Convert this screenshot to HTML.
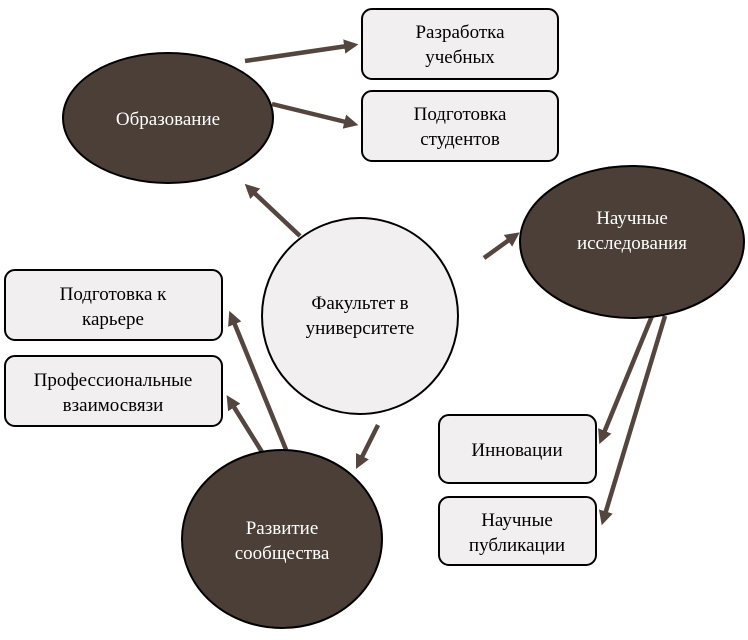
<!DOCTYPE html>
<html><head><meta charset="utf-8"><style>
body{margin:0;background:#fff}
svg text{font-family:"Liberation Serif","Noto Serif CJK SC",serif;font-size:19px;text-anchor:middle}
</style></head><body>
<svg width="748" height="635" viewBox="0 0 748 635" xmlns="http://www.w3.org/2000/svg">
<defs><marker id="a" markerWidth="3.2" markerHeight="3.2" refX="2.2" refY="1.6" orient="auto" markerUnits="strokeWidth"><path d="M0,0 L3.2,1.6 L0,3.2 z" fill="#54463e"/></marker></defs>
<g stroke="#54463e" stroke-width="4.5" marker-end="url(#a)" fill="none">
<line x1="245" y1="61" x2="354" y2="45"/>
<line x1="272" y1="104" x2="354" y2="124"/>
<line x1="300" y1="236" x2="248" y2="187"/>
<line x1="484" y1="258" x2="516" y2="235"/>
<line x1="652" y1="316" x2="601" y2="440"/>
<line x1="665" y1="316" x2="603" y2="521"/>
<line x1="378" y1="425" x2="358" y2="465"/>
<line x1="287" y1="452" x2="231" y2="315"/>
<line x1="262" y1="452" x2="229" y2="399"/>
</g>
<g stroke="#000" stroke-width="2" fill="#f1efef">
<rect x="362" y="9" width="196" height="70" rx="10"/>
<rect x="362" y="91" width="196" height="70" rx="10"/>
<rect x="5" y="270" width="217" height="70" rx="10"/>
<rect x="5" y="356" width="217" height="70" rx="10"/>
<rect x="439" y="415" width="157" height="68" rx="10"/>
<rect x="439" y="497" width="157" height="68" rx="10"/>
<ellipse cx="360" cy="316" rx="98" ry="98"/>
</g>
<g stroke="#000" stroke-width="2" fill="#4b3f38">
<ellipse cx="168" cy="118" rx="105" ry="65"/>
<ellipse cx="632" cy="242" rx="112" ry="76"/>
<ellipse cx="282" cy="539" rx="100" ry="89"/>
</g>
<g fill="#000">
<text x="460" y="38">Разработка</text><text x="460" y="63">учебных</text>
<text x="460" y="120">Подготовка</text><text x="460" y="145">студентов</text>
<text x="113" y="300">Подготовка к</text><text x="113" y="325">карьере</text>
<text x="113" y="386">Профессиональные</text><text x="113" y="411">взаимосвязи</text>
<text x="517" y="456">Инновации</text>
<text x="517" y="526">Научные</text><text x="517" y="551">публикации</text>
<text x="360" y="309">Факультет в</text><text x="360" y="334">университете</text>
</g>
<g fill="#fff">
<text x="168" y="125">Образование</text>
<text x="632" y="224">Научные</text><text x="632" y="249">исследования</text>
<text x="282" y="534">Развитие</text><text x="282" y="559">сообщества</text>
</g>
</svg>
</body></html>
